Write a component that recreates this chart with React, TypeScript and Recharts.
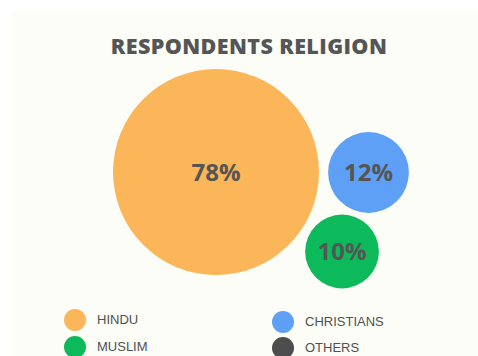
import React from "react";
import { ScatterChart, Scatter, XAxis, YAxis, ZAxis, Cell, LabelList } from "recharts";

const W = 478;
const H = 356;

// bubble data
const religions = ["HINDU", "CHRISTIANS", "MUSLIM"];
const shares = [78, 12, 10];
const bubbleX = [216, 368.5, 342];
const bubbleY = [172, 172.5, 251.5];
const bubbleColors = ["#FBB65A", "#5EA0F6", "#0CBA5C"];

// legend
const legendLeft = ["HINDU", "MUSLIM"];
const legendLeftColors = ["#FBB65A", "#0CBA5C"];
const legendRight = ["CHRISTIANS", "OTHERS"];
const legendRightColors = ["#5EA0F6", "#4D4D4D"];

const title = "RESPONDENTS RELIGION";

const data = religions.map((r, i) => ({
  name: r,
  x: bubbleX[i],
  y: bubbleY[i],
  value: shares[i],
  label: `${shares[i]}%`,
}));

const maxR = 103;

function LegendItem({ label, color, left, top }: { label: string; color: string; left: number; top: number }) {
  return (
    <div style={{ position: "absolute", left, top, height: 22, display: "flex", alignItems: "center" }}>
      <div style={{ width: 22, height: 22, borderRadius: 11, background: color }} />
      <span
        style={{
          marginLeft: 11,
          fontFamily: "'Liberation Sans', Arial, sans-serif",
          fontSize: 13,
          color: "#505050",
          lineHeight: "22px",
        }}
      >
        {label}
      </span>
    </div>
  );
}

export default function App() {
  return (
    <div style={{ position: "absolute", left: 0, top: 0, width: W, height: H, background: "#ffffff", overflow: "hidden" }}>
      <div style={{ position: "absolute", left: 12, top: 10, width: W - 12, height: H - 10, background: "#FCFDF7" }} />
      <div
        style={{
          position: "absolute",
          left: 0,
          width: W,
          top: 31,
          textAlign: "center",
          paddingLeft: 20,
          boxSizing: "border-box",
          fontFamily: "'Open Sans', sans-serif",
          fontWeight: 800,
          fontSize: 21.5,
          letterSpacing: 0.4,
          color: "#555555",
          lineHeight: "30px",
        }}
      >
        {title}
      </div>
      <div style={{ position: "absolute", left: 0, top: 0 }}>
        <ScatterChart width={W} height={H} margin={{ top: 0, right: 0, bottom: 0, left: 0 }}>
          <XAxis type="number" dataKey="x" domain={[0, W]} hide />
          <YAxis type="number" dataKey="y" domain={[0, H]} reversed hide />
          <ZAxis type="number" dataKey="value" domain={[0, 78]} range={[0, Math.PI * maxR * maxR]} />
          <Scatter data={data} isAnimationActive={false} shape="circle">
            {data.map((d, i) => (
              <Cell key={d.name} fill={bubbleColors[i]} />
            ))}
            <LabelList
              dataKey="label"
              position="center"
              style={{ fontFamily: "'Open Sans', sans-serif", fontWeight: 700, fontSize: 24, fill: "#555555" }}
            />
          </Scatter>
        </ScatterChart>
      </div>
      {legendLeft.map((l, i) => (
        <LegendItem key={l} label={l} color={legendLeftColors[i]} left={64} top={309 + i * 27} />
      ))}
      {legendRight.map((l, i) => (
        <LegendItem key={l} label={l} color={legendRightColors[i]} left={272} top={311 + i * 26} />
      ))}
    </div>
  );
}
